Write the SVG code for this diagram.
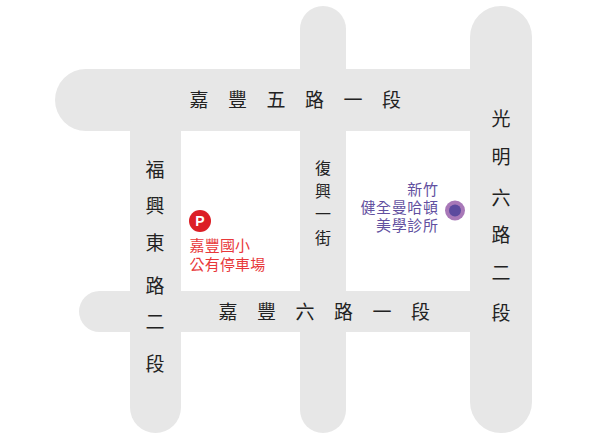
<svg xmlns="http://www.w3.org/2000/svg" width="600" height="438" viewBox="0 0 600 438">
<style>
.r{fill:#e7e7e7}
text{font-family:"Noto Sans CJK TC","Noto Sans",sans-serif}
.m{fill:#222;font-size:19px;text-anchor:middle}
.s{fill:#222;font-size:16px;text-anchor:middle}
.p{fill:#6250a0;font-size:15px;text-anchor:end;letter-spacing:.6px}
.c{fill:#e8383a;font-size:15px;letter-spacing:.2px}
</style>
<rect width="600" height="438" fill="#fff"/>
<g id="roads">
<rect class="r" x="55" y="69" width="477" height="62" rx="31"/>
<rect class="r" x="79" y="291" width="420" height="41" rx="20.500"/>
<rect class="r" x="130" y="100" width="51" height="333" rx="25.500"/>
<rect class="r" x="300" y="6" width="46" height="427" rx="23"/>
<rect class="r" x="470" y="6" width="62" height="427" rx="31"/>
</g>
<g id="labels">
<text class="m" x="199 237.400 276 314.400 353 391.400" y="107">嘉豐五路一段</text>
<text class="m" x="228 266.400 305 343.400 382 420.400" y="319">嘉豐六路一段</text>
<text class="m" x="155" y="177">福</text><text class="m" x="155" y="213">興</text><text class="m" x="155" y="250">東</text><text class="m" x="155" y="293">路</text><text class="m" x="155" y="329">二</text><text class="m" x="155" y="371">段</text>
<text class="s" x="323" y="174">復</text><text class="s" x="323" y="197">興</text><text class="s" x="323" y="220">一</text><text class="s" x="323" y="244">街</text>
<text class="m" x="501" y="126">光</text><text class="m" x="501" y="164">明</text><text class="m" x="501" y="205">六</text><text class="m" x="501" y="242">路</text><text class="m" x="501" y="280">二</text><text class="m" x="501" y="320">段</text>
</g>
<g id="clinic">
<circle cx="455" cy="210.500" r="10" fill="#a878b8"/><circle cx="455" cy="210.500" r="6" fill="#5c4a9e"/>
<text class="p" x="438.500" y="195">新竹</text><text class="p" x="438.500" y="212.500">健全曼哈頓</text><text class="p" x="438.500" y="231">美學診所</text>
</g>
<g id="parking">
<circle cx="200" cy="221" r="11" fill="#dc1f26"/>
<text x="200" y="226" fill="#fff" font-size="14" font-weight="700" text-anchor="middle" style="font-family:'Liberation Sans',sans-serif">P</text>
<text class="c" x="189.500" y="251">嘉豐國小</text><text class="c" x="189.500" y="269.500">公有停車場</text>
</g>
</svg>
